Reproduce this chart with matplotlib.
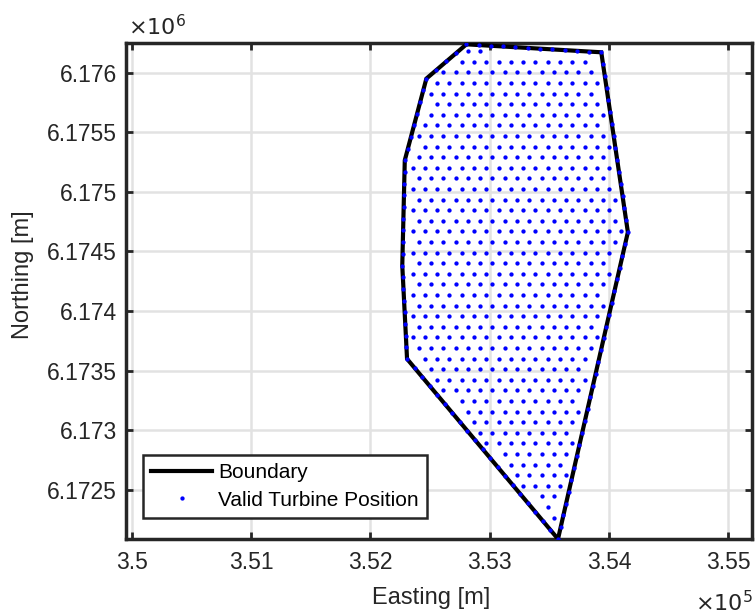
import numpy as np
import matplotlib
matplotlib.use("Agg")
import matplotlib.pyplot as plt
from matplotlib.lines import Line2D
from matplotlib.path import Path

plt.rcParams['font.family'] = ['Liberation Sans', 'DejaVu Sans']

# ---- data ----
boundary_easting = [352805, 353936, 354159, 353573, 352307, 352267, 352288, 352469]
boundary_northing = [6176239, 6176172, 6174662, 6172086, 6173598, 6174382, 6175265, 6175951]

# triangular lattice of candidate turbine sites
lattice_origin = (353229, 6175292)   # one lattice node
lattice_dx = 103.0                   # spacing along a row [m]
lattice_dy = 89.0                    # spacing between rows [m]
edge_spacing = 100.0                 # spacing of sites along the boundary [m]
edge_margin = 50.0                   # min distance of interior sites to boundary [m]

x_ticks = [350000, 351000, 352000, 353000, 354000, 355000]
y_ticks = [6172500, 6173000, 6173500, 6174000, 6174500, 6175000, 6175500, 6176000]
x_lim = (349950, 355200)
y_lim = (min(boundary_northing), 6176250)

# ---- build turbine positions ----
bx = np.array(boundary_easting + boundary_easting[:1], float)
by = np.array(boundary_northing + boundary_northing[:1], float)
poly = Path(np.column_stack([bx, by]))

ox, oy = lattice_origin
pts = []
for r in range(-60, 60):
    yy = oy + r * lattice_dy
    shift = (lattice_dx / 2) * (r % 2)
    for xx in ox + shift + np.arange(-40, 40) * lattice_dx:
        pts.append((xx, yy))
pts = np.array(pts)
pts = pts[poly.contains_points(pts)]

def dist_to_edges(p):
    d = np.full(len(p), np.inf)
    for i in range(len(bx) - 1):
        a = np.array([bx[i], by[i]]); b = np.array([bx[i + 1], by[i + 1]])
        ab = b - a
        t = np.clip(((p - a) @ ab) / (ab @ ab), 0, 1)
        proj = a + t[:, None] * ab
        d = np.minimum(d, np.hypot(*(p - proj).T))
    return d

pts = pts[dist_to_edges(pts) > edge_margin]

edge_pts = []
for i in range(len(bx) - 1):
    L = np.hypot(bx[i + 1] - bx[i], by[i + 1] - by[i])
    n = max(1, int(round(L / edge_spacing)))
    for k in range(n):
        t = k / n
        edge_pts.append((bx[i] + t * (bx[i + 1] - bx[i]), by[i] + t * (by[i + 1] - by[i])))
edge_pts = np.array(edge_pts)
all_pts = np.vstack([pts, edge_pts])

# ---- plot ----
W, H = 755, 615
fig = plt.figure(figsize=(W / 100, H / 100), dpi=100)
ax = fig.add_axes([126 / W, 1 - 539 / H, (752 - 126) / W, (539 - 43) / H])

dark = '#262626'
ax.plot(bx, by, color='black', lw=3, solid_joinstyle='miter', zorder=3)
ax.plot(all_pts[:, 0], all_pts[:, 1], 'o', color='blue', ms=3.1, mew=0, ls='none', zorder=4)

ax.set_xlim(*x_lim)
ax.set_ylim(*y_lim)
ax.set_xticks(x_ticks)
ax.set_yticks(y_ticks)
ax.set_xticklabels(['%g' % (v / 1e5) for v in x_ticks])
ax.set_yticklabels(['%g' % (v / 1e6) for v in y_ticks])

ax.grid(True, color='#e2e2e2', lw=1.8, zorder=0)
ax.set_axisbelow(True)
for s in ax.spines.values():
    s.set_linewidth(2.5)
    s.set_color(dark)
ax.tick_params(direction='in', length=5, width=2, colors=dark, labelsize=16.5,
               top=True, right=True, pad=6.5)
ax.tick_params(axis='x', pad=8.5)

ax.set_xlabel('Easting [m]', fontsize=17, color=dark, va='center')
ax.xaxis.set_label_coords((431 - 126) / 626, (539 - 598) / 496)
ax.set_ylabel('Northing [m]', fontsize=17, color=dark, va='center')
ax.yaxis.set_label_coords((23 - 126) / 626, (539 - 275) / 496)

fig.text(128 / W, 1 - 35 / H, r'$\times10^{6}$', fontsize=16, color=dark,
         ha='left', va='baseline', math_fontfamily='dejavusans')
fig.text(753 / W, 1 - 611 / H, r'$\times10^{5}$', fontsize=16, color=dark,
         ha='right', va='baseline', math_fontfamily='dejavusans')

handles = [Line2D([], [], color='black', lw=3),
           Line2D([], [], marker='o', color='blue', ms=3.1, mew=0, ls='none')]
leg = ax.legend(handles, ['Boundary', 'Valid Turbine Position'], loc='lower left',
                bbox_to_anchor=((143 - 126) / 626, (539 - 518) / 496), borderaxespad=0,
                fontsize=15, handlelength=2.9, handletextpad=0.3, borderpad=0.4,
                labelspacing=0.4, fancybox=False, framealpha=1)
leg.get_frame().set_edgecolor(dark)
leg.get_frame().set_linewidth(1.8)
for t in leg.get_texts():
    t.set_color('black')

fig.savefig('out.png', dpi=100)
